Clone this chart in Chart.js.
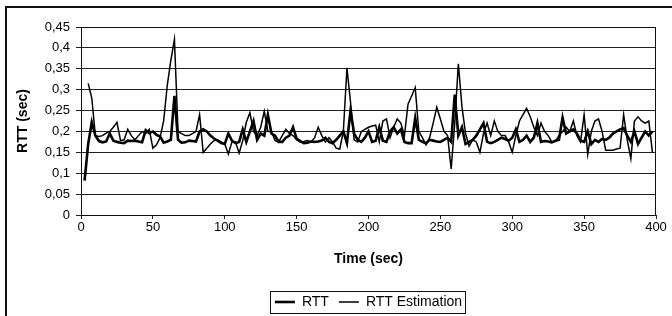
<!DOCTYPE html>
<html>
<head>
<meta charset="utf-8">
<title>RTT</title>
<script src="https://cdn.jsdelivr.net/npm/chart.js@4.4.1/dist/chart.umd.min.js"></script>
<style>
    body { margin: 0; background: #fff; overflow: hidden; }
    #wrap { position: relative; width: 672px; height: 316px; overflow: hidden; }
    #frame { position: absolute; left: 5px; top: 6px; width: 720px; height: 400px;
             border-left: 2px solid #111; border-top: 2px solid #111; }
    #rttChart { position: absolute; left: 0; top: 0; }
</style>
</head>
<body>
<div id="wrap">
    <div id="frame"></div>
    <canvas id="rttChart" width="672" height="316"></canvas>
</div>
<script>
// sample times (sec)
const times = [
    2.5, 5, 7.5, 10, 12.5, 15, 17.5, 20, 22.5, 25,
    27.5, 30, 32.5, 35, 37.5, 40, 42.5, 45, 47.5, 50,
    52.5, 55, 57.5, 60, 62.5, 65, 67.5, 70, 72.5, 75,
    77.5, 80, 82.5, 85, 87.5, 90, 92.5, 95, 97.5, 100,
    102.5, 105, 107.5, 110, 112.5, 115, 117.5, 120, 122.5, 125,
    127.5, 130, 132.5, 135, 137.5, 140, 142.5, 145, 147.5, 150,
    152.5, 155, 157.5, 160, 162.5, 165, 167.5, 170, 172.5, 175,
    177.5, 180, 182.5, 185, 187.5, 190, 192.5, 195, 197.5, 200,
    202.5, 205, 207.5, 210, 212.5, 215, 217.5, 220, 222.5, 225,
    227.5, 230, 232.5, 235, 237.5, 240, 242.5, 245, 247.5, 250,
    252.5, 255, 257.5, 260, 262.5, 265, 267.5, 270, 272.5, 275,
    277.5, 280, 282.5, 285, 287.5, 290, 292.5, 295, 297.5, 300,
    302.5, 305, 307.5, 310, 312.5, 315, 317.5, 320, 322.5, 325,
    327.5, 330, 332.5, 335, 337.5, 340, 342.5, 345, 347.5, 350,
    352.5, 355, 357.5, 360, 362.5, 365, 367.5, 370, 372.5, 375,
    377.5, 380, 382.5, 385, 387.5, 390, 392.5, 395, 397.5
];

// measured RTT (sec)
const rttValues = [
    0.082, 0.17, 0.222, 0.19, 0.177, 0.174, 0.176, 0.195, 0.178, 0.175,
    0.173, 0.172, 0.178, 0.177, 0.178, 0.176, 0.174, 0.203, 0.196, 0.2,
    0.192, 0.188, 0.173, 0.176, 0.18, 0.285, 0.18, 0.173, 0.174, 0.178,
    0.177, 0.176, 0.2, 0.205, 0.2, 0.19, 0.183, 0.178, 0.172, 0.17,
    0.195, 0.178, 0.172, 0.175, 0.205, 0.175, 0.2, 0.225, 0.18, 0.195,
    0.19, 0.24, 0.195, 0.19, 0.175, 0.175, 0.185, 0.19, 0.21, 0.183,
    0.177, 0.172, 0.173, 0.176, 0.175, 0.176, 0.178, 0.185, 0.175, 0.172,
    0.18, 0.19, 0.2, 0.172, 0.25, 0.195, 0.18, 0.175, 0.185, 0.2,
    0.175, 0.178, 0.21, 0.178, 0.175, 0.2, 0.21, 0.195, 0.205, 0.175,
    0.172, 0.172, 0.232, 0.18, 0.175, 0.172, 0.18, 0.178, 0.176, 0.175,
    0.18, 0.185, 0.175, 0.288, 0.19, 0.21, 0.17, 0.175, 0.18, 0.19,
    0.205, 0.22, 0.175, 0.172, 0.175, 0.18, 0.185, 0.182, 0.178, 0.185,
    0.205, 0.175, 0.18, 0.19, 0.175, 0.185, 0.22, 0.175, 0.177, 0.176,
    0.174, 0.178, 0.18, 0.233, 0.195, 0.2, 0.205, 0.195, 0.178, 0.175,
    0.2, 0.17, 0.18, 0.175, 0.182, 0.18, 0.185, 0.195, 0.2, 0.205,
    0.208, 0.19, 0.175, 0.2, 0.17, 0.185, 0.2, 0.19, 0.2
];

// RTT estimation (sec), starts one sample later
const estValues = [
    null, 0.315, 0.28, 0.19, 0.188, 0.19, 0.196, 0.2, 0.21, 0.222,
    0.178, 0.18, 0.205, 0.19, 0.18, 0.19, 0.2, 0.195, 0.205, 0.16,
    0.168, 0.185, 0.225, 0.31, 0.37, 0.42, 0.2, 0.195, 0.19, 0.19,
    0.195, 0.2, 0.24, 0.15, 0.16, 0.17, 0.178, 0.18, 0.175, 0.17,
    0.146, 0.175, 0.175, 0.148, 0.178, 0.222, 0.245, 0.2, 0.19, 0.21,
    0.248, 0.2, 0.2, 0.178, 0.175, 0.19, 0.205, 0.195, 0.19, 0.18,
    0.175, 0.176, 0.178, 0.175, 0.185, 0.21, 0.19, 0.175, 0.185, 0.175,
    0.16, 0.158, 0.2, 0.352, 0.27, 0.18, 0.175, 0.2, 0.205, 0.21,
    0.213, 0.215, 0.175, 0.225, 0.23, 0.185, 0.21, 0.23, 0.22, 0.19,
    0.265, 0.285, 0.305, 0.2, 0.185, 0.168, 0.185, 0.22, 0.258, 0.23,
    0.2, 0.19, 0.11, 0.22, 0.362, 0.26, 0.195, 0.165, 0.18, 0.175,
    0.15, 0.195, 0.22, 0.19, 0.225, 0.2, 0.19, 0.19, 0.175, 0.15,
    0.19, 0.225, 0.24, 0.255, 0.235, 0.21, 0.19, 0.22, 0.2, 0.19,
    0.175, 0.176, 0.19, 0.2, 0.21, 0.2, 0.225, 0.19, 0.175, 0.24,
    0.145, 0.2, 0.225, 0.23, 0.2, 0.155, 0.155, 0.155, 0.158, 0.16,
    0.24, 0.18, 0.135, 0.225, 0.235, 0.225, 0.22, 0.225, 0.15
];

const toPoints = (values) => times.map((t, i) => ({ x: t, y: values[i] }));

// frame around the plot area and around the legend
const framePlugin = {
    id: 'frames',
    afterDraw(chart) {
        const { ctx, chartArea: a, legend } = chart;
        ctx.save();
        ctx.strokeStyle = '#111';
        ctx.lineWidth = 1;
        ctx.strokeRect(Math.round(a.left) + 0.5, Math.round(a.top) + 0.5,
            Math.round(a.right - a.left) - 1, Math.round(a.bottom - a.top));

        const boxes = legend.legendHitBoxes;
        if (boxes && boxes.length) {
            const first = boxes[0];
            const last = boxes[boxes.length - 1];
            const midY = first.top + first.height / 2;
            const x0 = Math.round(first.left - 5) + 0.5;
            const x1 = Math.round(last.left + last.width + 3) + 0.5;
            ctx.strokeRect(x0, Math.round(midY - 11) + 0.5, x1 - x0, 22);
        }
        ctx.restore();
    }
};

Chart.defaults.font.family = '"Liberation Sans", Arial, sans-serif';
Chart.defaults.color = '#000';

const ctx = document.getElementById('rttChart').getContext('2d');
new Chart(ctx, {
    type: 'line',
    data: {
        datasets: [
            {
                label: 'RTT',
                data: toPoints(rttValues),
                borderColor: '#000',
                borderWidth: 2.6,
                pointRadius: 0,
                tension: 0
            },
            {
                label: 'RTT Estimation',
                data: toPoints(estValues),
                borderColor: '#000',
                borderWidth: 1.5,
                pointRadius: 0,
                tension: 0
            }
        ]
    },
    options: {
        responsive: false,
        animation: false,
        events: [],
        layout: {
            padding: { left: 0, right: 16, top: 27, bottom: -3 }
        },
        plugins: {
            tooltip: { enabled: false },
            legend: {
                position: 'bottom',
                fullSize: false,
                labels: {
                    usePointStyle: true,
                    pointStyle: 'line',
                    pointStyleWidth: 20,
                    padding: 10,
                    color: '#000',
                    font: { size: 14 }
                }
            }
        },
        scales: {
            x: {
                type: 'linear',
                min: 0,
                max: 400,
                afterFit: (scale) => { scale.height = 70; },
                ticks: {
                    stepSize: 50,
                    padding: 1,
                    color: '#000',
                    font: { size: 13 }
                },
                grid: {
                    drawOnChartArea: false,
                    drawTicks: true,
                    tickLength: 4,
                    color: '#222'
                },
                border: { color: '#111', width: 1 },
                title: {
                    display: true,
                    text: 'Time (sec)',
                    color: '#000',
                    font: { size: 14, weight: 'bold' },
                    padding: { top: 4, bottom: 17 }
                }
            },
            y: {
                min: 0,
                max: 0.45,
                afterFit: (scale) => { scale.width = 81; },
                ticks: {
                    stepSize: 0.05,
                    padding: 6,
                    color: '#000',
                    font: { size: 13 },
                    callback: (value) => Number(value.toFixed(2)).toString().replace('.', ',')
                },
                grid: {
                    color: '#222',
                    lineWidth: 1,
                    tickLength: 5
                },
                border: { color: '#111', width: 1 },
                title: {
                    display: true,
                    text: 'RTT (sec)',
                    color: '#000',
                    font: { size: 14, weight: 'bold' },
                    padding: { top: 15, bottom: 0 }
                }
            }
        }
    },
    plugins: [framePlugin]
});
</script>
</body>
</html>
